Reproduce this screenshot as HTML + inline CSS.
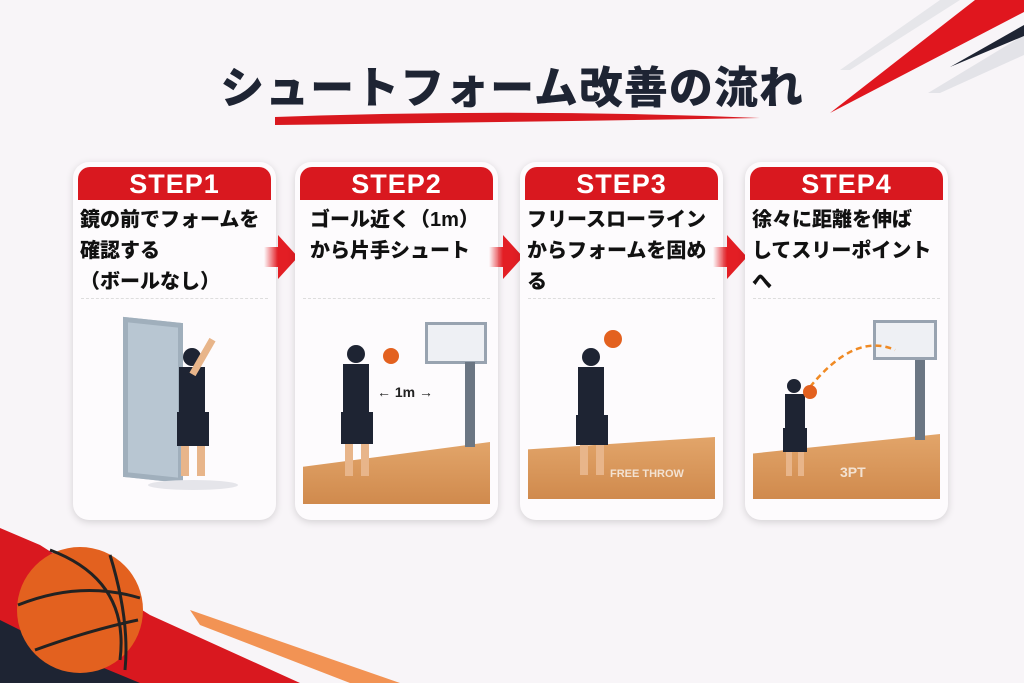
<!DOCTYPE html>
<html><head><meta charset="utf-8"><style>
*{margin:0;padding:0;box-sizing:border-box}
body{width:1024px;height:683px;overflow:hidden;background:#f8f5f8;position:relative;font-family:"Liberation Sans","Noto Sans CJK JP",sans-serif}
.abs{position:absolute}
.title{left:0;width:1024px;top:52px;text-align:center;font-size:44px;font-weight:900;color:#1e2433;letter-spacing:1px}
.card{position:absolute;top:162px;width:203px;height:358px;background:#fdfbfd;border-radius:16px;box-shadow:0 2px 8px rgba(0,0,0,.15);overflow:hidden}
.hd{position:absolute;left:5px;right:5px;top:5px;height:33px;background:#d9181f;border-radius:12px 12px 0 0;color:#fff;font-weight:900;font-size:27px;text-align:center;line-height:35px;letter-spacing:1px}
.tx{position:absolute;left:7px;top:43px;font-size:20px;font-weight:900;color:#111;line-height:31px;white-space:nowrap}
.dl{position:absolute;left:8px;right:8px;top:136px;border-top:1px dashed #ddd}
.arrow{position:absolute;top:235px;width:0;height:0;border-top:22px solid transparent;border-bottom:22px solid transparent;border-left:20px solid #e31e24}
.ab{position:absolute;top:247px;width:14px;height:20px;background:linear-gradient(90deg,rgba(227,30,36,0),#e31e24)}
.floor{position:absolute;background:linear-gradient(#e2a56a,#d08a4d)}
</style></head><body>
<svg class="abs" style="left:0;top:0" width="1024" height="683">
<polygon points="840,70 940,0 960,0 850,70" fill="#e6e6ea"/>
<polygon points="928,93 1024,35 1024,55 940,93" fill="#e3e3e8"/>
<polygon points="830,113 975,0 1024,0 1024,12" fill="#e0161e"/>
<polygon points="950,67 1024,25 1024,36" fill="#1e2433"/>
<polygon points="0,528 40,545 150,615 300,683 0,683" fill="#d9181f"/>
<polygon points="190,610 400,683 350,683 200,625" fill="#f07a2a" opacity=".8"/>
<polygon points="0,620 60,650 140,683 0,683" fill="#1e2433"/>
<path d="M275 117 Q520 108 760 118 Q520 122 275 125Z" fill="#d9181f"/>
<circle cx="80" cy="610" r="63" fill="#e3611f"/>
<path d="M18 605 Q80 580 140 598 M50 550 Q130 580 120 660 M35 650 Q90 630 138 620 M110 555 Q130 620 125 670" stroke="#222" stroke-width="3" fill="none"/>
</svg>
<div class="abs title">シュートフォーム改善の流れ</div>

<div class="card" style="left:73px">
<div class="hd">STEP1</div>
<div class="tx">鏡の前でフォームを<br>確認する<br>（ボールなし）</div>
<div class="dl"></div>
<div class="abs" style="left:50px;top:158px;width:60px;height:160px;background:#b8c6d2;border:5px solid #a0afbc;transform:skewY(6deg)"></div>
<div class="abs" style="left:75px;top:318px;width:90px;height:10px;background:#e5e5ea;border-radius:50%"></div>
<div class="abs" style="left:110px;top:186px;width:18px;height:18px;background:#1e2433;border-radius:50%"></div>
<div class="abs" style="left:106px;top:205px;width:26px;height:45px;background:#1e2433"></div>
<div class="abs" style="left:104px;top:250px;width:32px;height:34px;background:#1e2433"></div>
<div class="abs" style="left:108px;top:284px;width:8px;height:30px;background:#e8b58a"></div>
<div class="abs" style="left:124px;top:284px;width:8px;height:30px;background:#e8b58a"></div>
<div class="abs" style="left:126px;top:175px;width:7px;height:40px;background:#e8b58a;transform:rotate(30deg)"></div>
</div>

<div class="arrow" style="left:278px"></div><div class="ab" style="left:264px"></div>

<div class="card" style="left:295px">
<div class="hd">STEP2</div>
<div class="tx" style="left:15px">ゴール近く（1m）<br>から片手シュート</div>
<div class="dl"></div>
<div class="floor" style="left:8px;top:280px;width:187px;height:62px;clip-path:polygon(0 40%,100% 0,100% 100%,0 100%)"></div>
<div class="abs" style="left:130px;top:160px;width:62px;height:42px;background:#eef0f4;border:3px solid #98a3b0"></div>
<div class="abs" style="left:170px;top:200px;width:10px;height:85px;background:#6b7683"></div>
<div class="abs" style="left:52px;top:183px;width:18px;height:18px;background:#1e2433;border-radius:50%"></div>
<div class="abs" style="left:48px;top:202px;width:26px;height:48px;background:#1e2433"></div>
<div class="abs" style="left:46px;top:250px;width:32px;height:32px;background:#1e2433"></div>
<div class="abs" style="left:50px;top:282px;width:8px;height:32px;background:#e8b58a"></div>
<div class="abs" style="left:66px;top:282px;width:8px;height:32px;background:#e8b58a"></div>
<div class="abs" style="left:88px;top:186px;width:16px;height:16px;background:#e3611f;border-radius:50%"></div>
<div class="abs" style="left:82px;top:222px;font-size:14px;font-weight:700;color:#222">← 1m →</div>
</div>

<div class="arrow" style="left:503px"></div><div class="ab" style="left:489px"></div>

<div class="card" style="left:520px">
<div class="hd">STEP3</div>
<div class="tx">フリースローライン<br>からフォームを固め<br>る</div>
<div class="dl"></div>
<div class="floor" style="left:8px;top:275px;width:187px;height:62px;clip-path:polygon(0 20%,100% 0,100% 100%,0 100%)"></div>
<div class="abs" style="left:90px;top:306px;color:#f3e2d2;font-size:11px;font-weight:700">FREE THROW</div>
<div class="abs" style="left:62px;top:186px;width:18px;height:18px;background:#1e2433;border-radius:50%"></div>
<div class="abs" style="left:58px;top:205px;width:26px;height:48px;background:#1e2433"></div>
<div class="abs" style="left:56px;top:253px;width:32px;height:30px;background:#1e2433"></div>
<div class="abs" style="left:60px;top:283px;width:8px;height:30px;background:#e8b58a"></div>
<div class="abs" style="left:76px;top:283px;width:8px;height:30px;background:#e8b58a"></div>
<div class="abs" style="left:84px;top:168px;width:18px;height:18px;background:#e3611f;border-radius:50%"></div>
</div>

<div class="arrow" style="left:727px"></div><div class="ab" style="left:713px"></div>

<div class="card" style="left:745px">
<div class="hd">STEP4</div>
<div class="tx">徐々に距離を伸ば<br>してスリーポイント<br>へ</div>
<div class="dl"></div>
<div class="floor" style="left:8px;top:272px;width:187px;height:65px;clip-path:polygon(0 30%,100% 0,100% 100%,0 100%)"></div>
<div class="abs" style="left:95px;top:302px;color:#f3e2d2;font-size:14px;font-weight:700">3PT</div>
<div class="abs" style="left:128px;top:158px;width:64px;height:40px;background:#eef0f4;border:3px solid #98a3b0"></div>
<div class="abs" style="left:170px;top:198px;width:10px;height:80px;background:#6b7683"></div>
<svg class="abs" style="left:0;top:0" width="203" height="358"><path d="M65 225 Q110 170 150 188" stroke="#f08a24" stroke-width="2.5" stroke-dasharray="6 4" fill="none"/></svg>
<div class="abs" style="left:42px;top:217px;width:14px;height:14px;background:#1e2433;border-radius:50%"></div>
<div class="abs" style="left:40px;top:232px;width:20px;height:34px;background:#1e2433"></div>
<div class="abs" style="left:38px;top:266px;width:24px;height:24px;background:#1e2433"></div>
<div class="abs" style="left:41px;top:290px;width:6px;height:24px;background:#e8b58a"></div>
<div class="abs" style="left:53px;top:290px;width:6px;height:24px;background:#e8b58a"></div>
<div class="abs" style="left:58px;top:223px;width:14px;height:14px;background:#e3611f;border-radius:50%"></div>
</div>
</body></html>
